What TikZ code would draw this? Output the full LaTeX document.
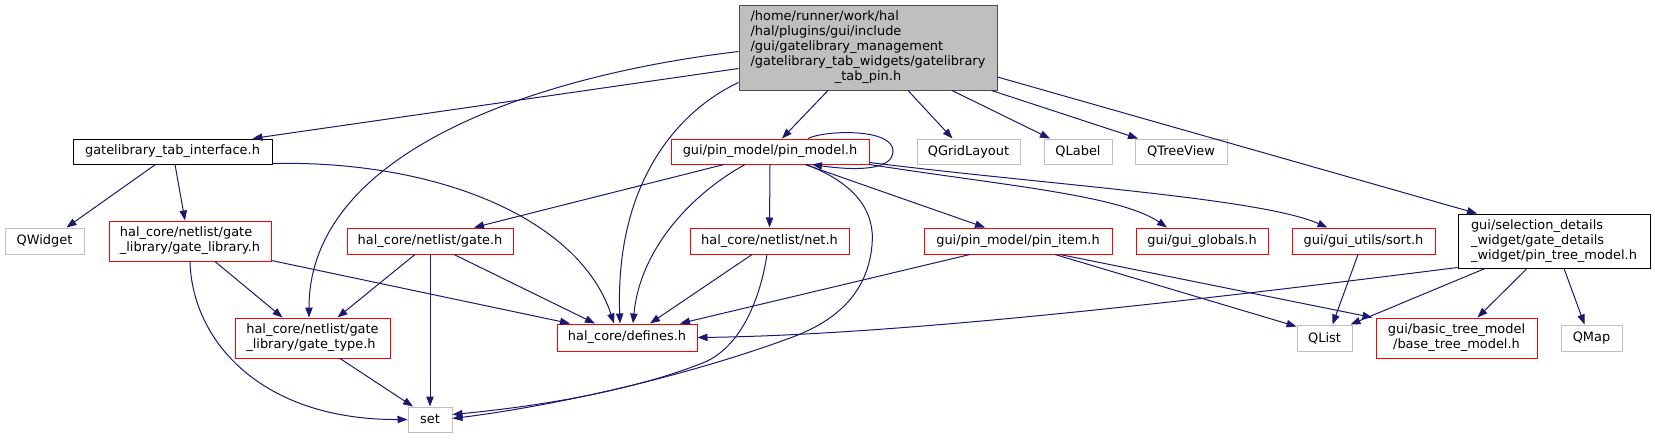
\documentclass[tikz,border=0pt]{standalone}
\usepackage{fontspec}
\setmainfont{DejaVu Sans}
\usepackage{xcolor}
\usepackage{tikz}
\usetikzlibrary{arrows.meta, positioning}

\definecolor{edgeblue}{RGB}{25,25,112}
\definecolor{grey75}{RGB}{191,191,191}

\begin{document}
\begin{tikzpicture}[
  x=0.75pt, y=-0.75pt,
  file/.style={rectangle, draw=black, line width=0.75pt, inner sep=0pt, minimum height=18.75pt, align=left, font=\fontsize{9.7}{11.2}\selectfont},
  rootfile/.style={file, draw=black!70, fill=grey75},
  redfile/.style={file, draw=red},
  extfile/.style={file, draw=grey75},
  boxw/.style={minimum width=#1*0.75pt},
  boxh/.style={minimum height=#1*0.75pt},
  arrow/.style={edgeblue, line width=0.75pt, -{Triangle[length=7.5pt,width=5.5pt]}}
]
\useasboundingbox (0,0) rectangle (1655,439);

% Top row
\node (root) [rootfile, boxw=258, boxh=85] at (868,47.5) {\begin{tabular}{@{}l@{}}/home/runner/work/hal\\/hal/plugins/gui/include\\/gui/gatelibrary\_management\\/gatelibrary\_tab\_widgets/gatelibrary\\\multicolumn{1}{@{}c@{}}{\_tab\_pin.h}\end{tabular}};

% Second row
\node (tabif) [file, boxw=199] at (172.5,151.5) {gatelibrary\_tab\_interface.h};
\node (pinmodel) [redfile, boxw=198] at (770,151.5) {gui/pin\_model/pin\_model.h};
\node (qgrid) [extfile, boxw=103] at (968.5,151.5) {QGridLayout};
\node (qlabel) [extfile, boxw=68] at (1078,151.5) {QLabel};
\node (qtree) [extfile, boxw=92] at (1181,151.5) {QTreeView};

% Third row
\node (qwidget) [extfile, boxw=79, boxh=26] at (44.5,241) {QWidget};
\node (gatelib) [redfile, boxw=162, boxh=40] at (190,241) {hal\_core/netlist/gate\\\_library/gate\_library.h};
\node (gate) [redfile, boxw=166, boxh=26] at (430,241) {hal\_core/netlist/gate.h};
\node (net) [redfile, boxw=159, boxh=26] at (769.5,241) {hal\_core/netlist/net.h};
\node (pinitem) [redfile, boxw=188, boxh=26] at (1018,241) {gui/pin\_model/pin\_item.h};
\node (guiglobals) [redfile, boxw=132, boxh=26] at (1202,241) {gui/gui\_globals.h};
\node (sort) [redfile, boxw=143, boxh=26] at (1363.5,241) {gui/gui\_utils/sort.h};
\node (pintree) [file, boxw=192, boxh=54] at (1554,241) {gui/selection\_details\\\_widget/gate\_details\\\_widget/pin\_tree\_model.h};

% Fourth row
\node (gatetype) [redfile, boxw=155, boxh=40] at (312.5,338) {hal\_core/netlist/gate\\\_library/gate\_type.h};
\node (defines) [redfile, boxw=140, boxh=27] at (627,337.5) {hal\_core/defines.h};
\node (qlist) [extfile, boxw=55, boxh=26] at (1324.5,338) {QList};
\node (basetree) [redfile, boxw=161, boxh=40, align=center] at (1456.5,338) {gui/basic\_tree\_model\\/base\_tree\_model.h};
\node (qmap) [extfile, boxw=61, boxh=26] at (1591.5,338) {QMap};

% Bottom
\node (set) [extfile, boxw=44] at (430,419.5) {set};

% Arrows from the root file
\draw [arrow] ([shift={(0,21)}]root.west) -- ([shift={(80,0)}]tabif.north);
\draw [arrow] ([shift={(0,4)}]root.west) .. controls (540,75) and (309,150) .. ([shift={(-3.5,0)}]gatetype.north);
\draw [arrow] ([shift={(0,35)}]root.west) .. controls (680,110) and (615,180) .. ([shift={(-7,0)}]defines.north);
\draw [arrow] ([shift={(-40,0)}]root.south) -- ([shift={(12,0)}]pinmodel.north);
\draw [arrow] ([shift={(40,0)}]root.south) -- ([shift={(-16,0)}]qgrid.north);
\draw [arrow] ([shift={(84,0)}]root.south) -- ([shift={(-28,0)}]qlabel.north);
\draw [arrow] ([shift={(-6,0)}]root.south east) -- ([shift={(-43,0)}]qtree.north);
\draw [arrow] ([shift={(0,29.5)}]root.east) -- ([shift={(-77,0)}]pintree.north);

% gatelibrary_tab_interface.h
\draw [arrow] ([shift={(-17,0)}]tabif.south) -- ([shift={(22,0)}]qwidget.north);
\draw [arrow] ([shift={(2.5,0)}]tabif.south) -- ([shift={(-5,0)}]gatelib.north);
\draw [arrow] ([shift={(0,-1)}]tabif.south east) .. controls (440,160) and (580,220) .. ([shift={(-13,0)}]defines.north);

% gate_library.h, gate.h and gate_type.h
\draw [arrow] ([shift={(25,0)}]gatelib.south) -- ([shift={(-30,0)}]gatetype.north);
\draw [arrow] ([shift={(0,-1)}]gatelib.south east) -- ([shift={(-57,0)}]defines.north);
\draw [arrow] (gatelib.south) .. controls (192,340) and (260,420) .. (set.west);
\draw [arrow] ([shift={(-15,0)}]gate.south) -- ([shift={(25,0)}]gatetype.north);
\draw [arrow] (gate.south) -- (set.north);
\draw [arrow] ([shift={(24,0)}]gate.south) -- ([shift={(-32,0)}]defines.north);
\draw [arrow] ([shift={(27.5,0)}]gatetype.south) -- ([shift={(-17,0)}]set.north);

% pin_model.h
\draw [arrow] ([shift={(38,0)}]pinmodel.north) .. controls (825,130) and (893,128) .. (893,151) .. controls (893,172) and (850,170) .. ([shift={(42,0)}]pinmodel.south);
\draw [arrow] ([shift={(-46,0)}]pinmodel.south) -- ([shift={(44,0)}]gate.north);
\draw [arrow] ([shift={(-25,0)}]pinmodel.south) .. controls (690,195) and (640,250) .. ([shift={(6,0)}]defines.north);
\draw [arrow] (pinmodel.south) -- (net.north);
\draw [arrow] ([shift={(36,0)}]pinmodel.south) .. controls (860,185) and (875,215) .. (872,245) .. controls (868,290) and (840,320) .. (790,338) .. controls (690,375) and (560,405) .. ([shift={(0,-1)}]set.east);
\draw [arrow] ([shift={(35,0)}]pinmodel.south) -- ([shift={(-33,0)}]pinitem.north);
\draw [arrow] (pinmodel.south east) .. controls (1000,185) and (1120,195) .. ([shift={(-35,0)}]guiglobals.north);
\draw [arrow] ([shift={(0,-2)}]pinmodel.south east) .. controls (1050,185) and (1260,198) .. ([shift={(-36,0)}]sort.north);

% net.h and pin_item.h
\draw [arrow] ([shift={(-17.5,0)}]net.south) -- ([shift={(23,0)}]defines.north);
\draw [arrow] ([shift={(-2.5,0)}]net.south) .. controls (760,300) and (740,350) .. (700,364) .. controls (620,395) and (520,408) .. ([shift={(0,-5)}]set.east);
\draw [arrow] ([shift={(-48,0)}]pinitem.south) -- ([shift={(53,0)}]defines.north);
\draw [arrow] ([shift={(37,0)}]pinitem.south) -- ([shift={(0,2)}]qlist.north west);
\draw [arrow] ([shift={(42,0)}]pinitem.south) -- ([shift={(-3,0)}]basetree.north west);

% sort.h and pin_tree_model.h
\draw [arrow] ([shift={(-5.5,0)}]sort.south) -- ([shift={(8,0)}]qlist.north);
\draw [arrow] ([shift={(0,-1)}]pintree.south west) .. controls (1200,300) and (900,335) .. (defines.east);
\draw [arrow] ([shift={(-69,0)}]pintree.south) -- ([shift={(-2,0)}]qlist.north east);
\draw [arrow] ([shift={(-27,0)}]pintree.south) -- ([shift={(21,0)}]basetree.north);
\draw [arrow] ([shift={(10,0)}]pintree.south) -- ([shift={(-7,0)}]qmap.north);
\end{tikzpicture}
\end{document}
